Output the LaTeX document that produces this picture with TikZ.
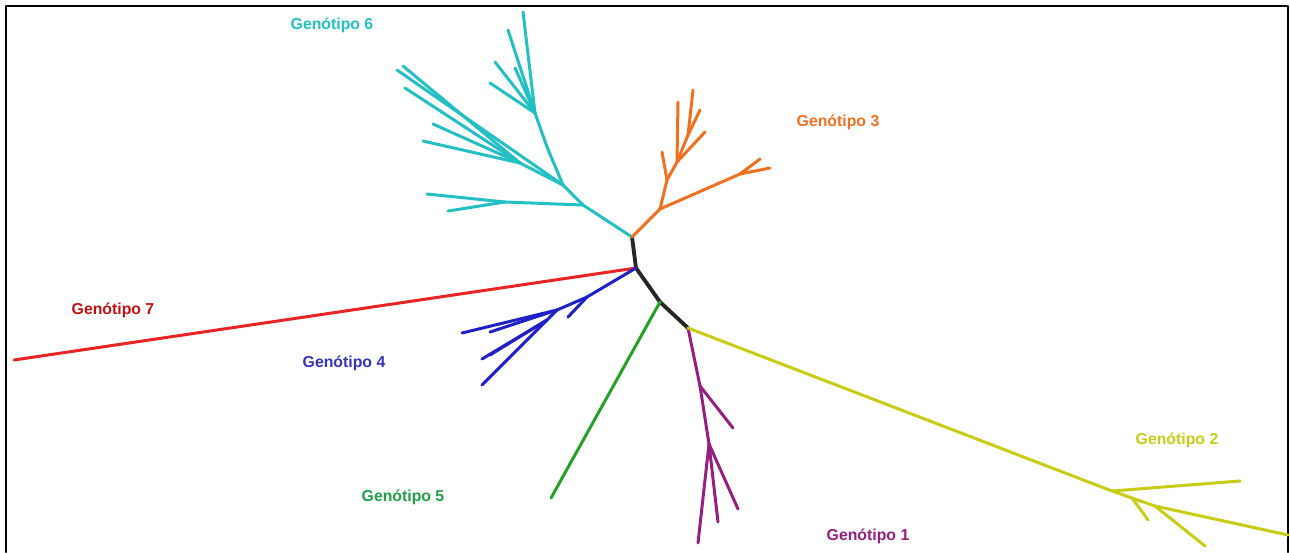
\documentclass[tikz,border=0pt]{standalone}
\usepackage{fontspec}
\setmainfont{Liberation Sans}
\usepackage{tikz}
\definecolor{gcyan}{RGB}{34,192,196}
\definecolor{gorange}{RGB}{240,112,32}
\definecolor{gred}{RGB}{232,36,36}
\definecolor{gredtxt}{RGB}{196,16,16}
\definecolor{gblue}{RGB}{32,32,200}
\definecolor{gbluetxt}{RGB}{52,52,184}
\definecolor{ggreen}{RGB}{36,160,40}
\definecolor{ggreentxt}{RGB}{30,160,70}
\definecolor{gpurple}{RGB}{150,30,128}
\definecolor{gyellow}{RGB}{200,204,20}
\begin{document}
\begin{tikzpicture}[x=0.02cm,y=-0.02cm,line cap=round,line join=round,
 br/.style={#1,line width=1.7pt},
 lbl/.style={text=#1,font=\fontsize{9}{10}\selectfont\bfseries,inner sep=0pt}]
\useasboundingbox (0,0) rectangle (1290,552);
\draw[line width=1.2pt] (6,552) -- (6,6) -- (1288,6) -- (1288,552);
% backbone
\coordinate (A) at (632,237);
\coordinate (B) at (636,268);
\coordinate (C) at (660,302);
\coordinate (D) at (688,328);
\draw[line width=2.2pt,black!85] (A) -- (B) -- (C) -- (D);
% genotipo 6
\foreach \n/\p in {cy1/{583,205},cy1a/{505,202},cy1b/{427,194},cy1c/{448,211},
   cy2/{563,185},cy3/{520,163},cy3a/{433,124},cy3b/{423,141},cy4/{397,70},cy4a/{403,66},cy4b/{405,88},
   cy5/{547,147},cy6/{535,113},cy6a/{490,83},cy6b/{495,62},cy6c/{508,30},cy6d/{523,12},cy6e/{515,68}}
   \coordinate (\n) at (\p);
\foreach \a/\b in {A/cy1,cy1/cy1a,cy1a/cy1b,cy1a/cy1c,cy1/cy2,cy2/cy3,cy3/cy3a,cy3/cy3b,
   cy2/cy4,cy3/cy4a,cy3/cy4b,cy2/cy5,cy5/cy6,cy6/cy6a,cy6/cy6b,cy6/cy6c,cy6/cy6d,cy6/cy6e}
   \draw[br=gcyan] (\a) -- (\b);
% genotipo 3
\foreach \n/\p in {or1/{660,209},or2/{740,174},or2a/{760,159},or2b/{770,168},
   or3/{667,180},or3a/{662,152},or4/{677,162},or4a/{705,132},or5/{688,135},or5a/{700,110},or5b/{693,90},or4b/{678,102}}
   \coordinate (\n) at (\p);
\foreach \a/\b in {A/or1,or1/or2,or2/or2a,or2/or2b,or1/or3,or3/or3a,or3/or4,or4/or4a,
   or4/or5,or5/or5a,or5/or5b,or4/or4b}
   \draw[br=gorange] (\a) -- (\b);
% genotipo 7
\coordinate (rd1) at (14,360);
\draw[br=gred] (B) -- (rd1);
% genotipo 4
\foreach \n/\p in {bl1/{587,297},bl1a/{568,317},bl2/{557,310},bl2a/{462,333},bl2b/{490,332},
   bl3/{547,320},bl3a/{482,359},bl3b/{482,385},bl3c/{490,355}}
   \coordinate (\n) at (\p);
\foreach \a/\b in {B/bl1,bl1/bl1a,bl1/bl2,bl2/bl2a,bl2/bl2b,bl2/bl3,bl3/bl3a,bl3/bl3b,bl3/bl3c}
   \draw[br=gblue] (\a) -- (\b);
% genotipo 5
\coordinate (gr1) at (551,498);
\draw[br=ggreen] (C) -- (gr1);
% genotipo 1
\foreach \n/\p in {pu1/{700,386},pu1a/{733,428},pu2/{709,444},pu2a/{738,509},pu2b/{718,522},pu2c/{698,543}}
   \coordinate (\n) at (\p);
\foreach \a/\b in {D/pu1,pu1/pu1a,pu1/pu2,pu2/pu2a,pu2/pu2b,pu2/pu2c}
   \draw[br=gpurple] (\a) -- (\b);
% genotipo 2
\foreach \n/\p in {ye1/{1112,491},ye1a/{1240,481},ye2/{1132,498},ye2a/{1148,520},
   ye3/{1155,506},ye3a/{1205,546},ye3b/{1288,535}}
   \coordinate (\n) at (\p);
\foreach \a/\b in {D/ye1,ye1/ye1a,ye1/ye2,ye2/ye2a,ye2/ye3,ye3/ye3a,ye3/ye3b}
   \draw[br=gyellow] (\a) -- (\b);
% labels
\node[lbl=gcyan] (g6) at (332,25) {Genótipo 6};
\node[lbl=gorange] (g3) at (838,122) {Genótipo 3};
\node[lbl=gredtxt] (g7) at (113,310) {Genótipo 7};
\node[lbl=gbluetxt] (g4) at (344,363) {Genótipo 4};
\node[lbl=ggreentxt] (g5) at (403,497) {Genótipo 5};
\node[lbl=gpurple] (g1) at (868,536) {Genótipo 1};
\node[lbl=gyellow] (g2) at (1177,440) {Genótipo 2};
\end{tikzpicture}
\end{document}
